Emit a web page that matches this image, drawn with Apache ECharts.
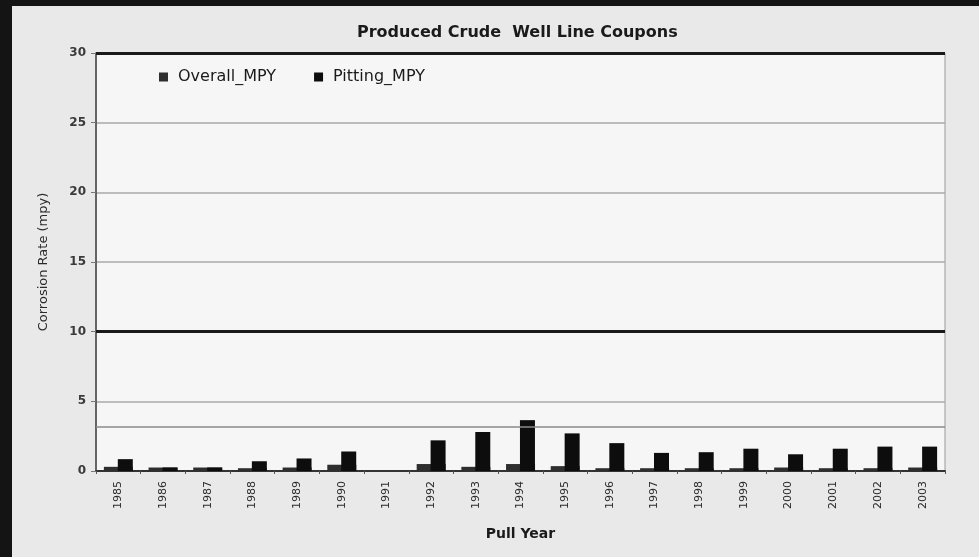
<!DOCTYPE html>
<html>
<head>
<meta charset="utf-8">
<script src="https://cdn.jsdelivr.net/npm/echarts@6/dist/echarts.min.js"></script>
<style>
	html, body { margin: 0; padding: 0; background: #141414; }
	#chart { position: absolute; left: 12px; top: 6px; width: 967px; height: 551px; background: #e9e9e9; }
</style>
</head>
<body>
<div id="chart"></div>
<script>
// values
const years = ['1985','1986','1987','1988','1989','1990','1991','1992','1993','1994',
	'1995','1996','1997','1998','1999','2000','2001','2002','2003'];
const overallMpy = [0.3, 0.25, 0.25, 0.2, 0.25, 0.45, 0, 0.5, 0.3, 0.5,
	0.35, 0.2, 0.2, 0.2, 0.2, 0.25, 0.2, 0.2, 0.25];
const pittingMpy = [0.85, 0.25, 0.25, 0.7, 0.9, 1.4, 0, 2.2, 2.8, 3.65,
	2.7, 2.0, 1.3, 1.35, 1.6, 1.2, 1.6, 1.75, 1.75];
const heavyLines = [10, 30];
const lightLines = [3.2];

const font = '"DejaVu Sans", Arial, sans-serif';

let myChart = echarts.init(document.getElementById('chart'));
let option = {
	animation: false,
	title: {
		left: 340,
		top: 14,
		text: 'Produced Crude  Well Line Coupons',
		textStyle: { fontFamily: font, fontSize: 16, fontWeight: 'bold', color: '#1a1a1a' }
	},
	legend: {
		left: 142,
		top: 58,
		icon: 'rect',
		itemWidth: 9,
		itemHeight: 9,
		itemGap: 38,
		textStyle: { fontFamily: font, fontSize: 16, color: '#1a1a1a', padding: [0, 0, 0, 5] },
		data: ['Overall_MPY', 'Pitting_MPY']
	},
	grid: {
		left: 84, right: 34, top: 47, bottom: 86,
		show: true,
		backgroundColor: '#f6f6f6',
		borderColor: '#9a9a9a',
		borderWidth: 1
	},
	xAxis: {
		type: 'category',
		data: years,
		name: 'Pull Year',
		nameLocation: 'middle',
		nameGap: 56,
		nameTextStyle: { fontFamily: font, fontSize: 14, fontWeight: 'bold', color: '#1a1a1a' },
		axisLine: { lineStyle: { color: '#333', width: 2 } },
		axisTick: { show: true, length: 3, lineStyle: { color: '#555' } },
		axisLabel: { rotate: 90, fontFamily: font, fontSize: 11, color: '#2a2a2a', margin: 10 }
	},
	yAxis: {
		type: 'value',
		min: 0,
		max: 30,
		interval: 5,
		name: 'Corrosion Rate (mpy)',
		nameLocation: 'middle',
		nameGap: 46,
		nameTextStyle: { fontFamily: font, fontSize: 13, color: '#2a2a2a' },
		axisLine: { show: true, lineStyle: { color: '#444', width: 1.5 } },
		axisTick: { show: true, length: 5, lineStyle: { color: '#777' } },
		axisLabel: { fontFamily: font, fontSize: 12, fontWeight: 'bold', color: '#3a3a3a', margin: 10 },
		splitLine: { lineStyle: { color: '#a8a8a8', width: 1.5 } }
	},
	series: [
		{
			name: 'Overall_MPY',
			type: 'bar',
			barWidth: 29,
			barGap: '-52%',
			itemStyle: { color: '#2e2e2e' },
			data: overallMpy,
			markLine: {
				silent: true,
				symbol: 'none',
				label: { show: false },
				data: heavyLines.map(v => ({ yAxis: v, lineStyle: { color: '#1a1a1a', width: 3, type: 'solid' } }))
					.concat(lightLines.map(v => ({ yAxis: v, lineStyle: { color: '#8a8a8a', width: 1.5, type: 'solid' } })))
			}
		},
		{
			name: 'Pitting_MPY',
			type: 'bar',
			barWidth: 15,
			barGap: '-52%',
			itemStyle: { color: '#0d0d0d' },
			data: pittingMpy
		}
	]
};
myChart.setOption(option);
</script>
</body>
</html>
